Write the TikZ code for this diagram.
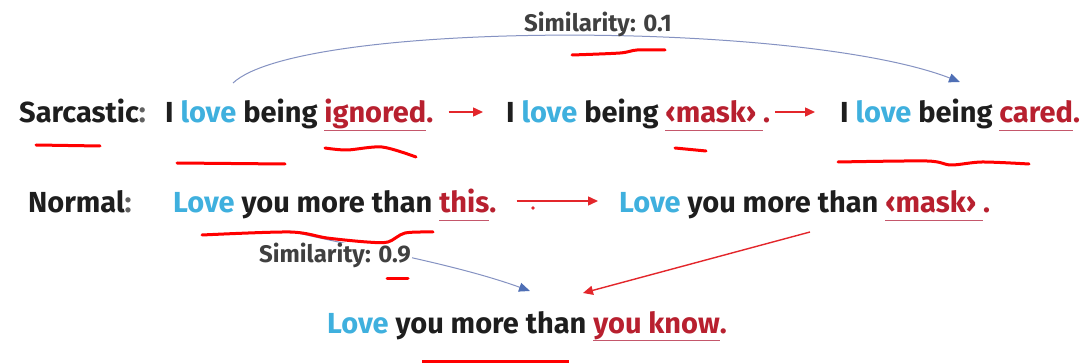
\documentclass[tikz,border=0pt]{standalone}
\usepackage{fontspec}
\setmainfont{Fira Sans}
\usetikzlibrary{arrows.meta,calc}
\definecolor{lblue}{HTML}{3FB0DE}
\definecolor{wred}{HTML}{B8202F}
\definecolor{ulred}{HTML}{C4576B}
\definecolor{txt}{HTML}{1E1E1E}
\definecolor{arrred}{HTML}{E3262B}
\definecolor{curveblue}{HTML}{8592C2}
\definecolor{tipblue}{HTML}{4F6FB5}
\definecolor{scrib}{HTML}{FF0000}
\newcommand\bw[1]{{\color{lblue}#1}}
\newcommand\rw[1]{{\setbox0\hbox{\color{wred}#1}\rlap{\color{ulred}\rule[-8pt]{\wd0}{1.3pt}}\box0}}
\begin{document}
\begin{tikzpicture}[x=1pt,y=-1pt,
  sent/.style={anchor=base west, inner sep=0pt, font=\fontsize{29}{34}\selectfont\bfseries, text=txt},
  simlab/.style={anchor=base west, inner sep=1pt, fill=white, font=\fontsize{24}{28}\selectfont\bfseries, text=txt!85},
  redarrow/.style={draw=arrred, line width=1.4pt, -{Triangle[length=10pt,width=9pt]}},
  bluearrow/.style={draw=curveblue, line width=1pt, -{Triangle[length=11pt,width=9pt,color=tipblue]}},
  scribble/.style={draw=scrib, line width=3pt, line cap=round, line join=round}]
\useasboundingbox[fill=white] (0,0) rectangle (1089,363);

% row 1
\node[sent] (lab1) at (19,123) {Sarcastic{\color{txt!70}:}};
\node[sent] (s1) at (165,123) {I \bw{love} being \rw{ignored}.};
\node[sent] (s2) at (506,123) {I \bw{love} being \rw{‹mask› }.};
\node[sent] (s3) at (840,123) {I \bw{love} being \rw{cared}.};
% row 2
\node[sent] (lab2) at (28,213) {Normal{\color{txt!70}:}};
\node[sent] (n1) at (173,213) {\bw{Love} you more than \rw{this}.};
\node[sent] (n2) at (619,213) {\bw{Love} you more than \rw{‹mask› }.};
% row 3
\node[sent] (n3) at (327,333) {\bw{Love} you more than \rw{you know}.};

% similarity 0.1 curve
\coordinate (b1s) at ($(s1.base west)+(68,-40)$);
\coordinate (b1e) at ($(s3.base west)+(120,-41)$);
\draw[bluearrow] (b1s) .. controls (300,20) and (800,20) .. (b1e);
\node[simlab, fill=none] (sim1) at (523,32) {Similarity: 0.1};

% similarity 0.9 arrow
\coordinate (b2s) at ($(n1.base west)+(117,18)$);
\coordinate (b2e) at ($(n3.base west)+(203,-42)$);
\draw[bluearrow] (b2s) .. controls (340,244) and (450,262) .. (b2e);
\node[simlab] (sim2) at (258,263) {Similarity: 0.9};

% red arrows
\draw[redarrow] ($(s1.base east)+(15,-11)$) -- ($(s2.base west)+(-23,-11)$);
\draw[redarrow] ($(s2.base east)+(5,-11)$) -- ($(s3.base west)+(-25,-11)$);
\draw[redarrow] ($(n1.base east)+(20,-12)$) -- ($(n2.base west)+(-21,-12)$);
\draw[redarrow] ($(n2.base west)+(191,19)$) -- ($(n3.base west)+(256,-40)$);
\fill[arrred] (533,208) circle (1.8);

% hand-drawn red marks
\draw[scribble] (36,145) -- (100,146);
\draw[scribble] (177,163) -- (285,164);
\draw[scribble] plot[smooth] coordinates {(325,148) (347,150) (382,147) (416,157)};
\draw[scribble] plot[smooth] coordinates {(572,55) (620,53) (637,50) (665,50)};
\draw[scribble] (675,148) -- (706,151);
\draw[scribble] plot[smooth] coordinates {(838,162) (927,161) (951,165) (982,162) (1029,164)};
\draw[scribble] plot[smooth] coordinates {(202,235) (290,232) (327,238) (367,242) (388,242) (405,233) (433,232)};
\draw[scribble] (387,279) -- (408,279);
\draw[scribble, line width=4pt, line cap=butt] (422,362) -- (569,362);
\end{tikzpicture}
\end{document}
